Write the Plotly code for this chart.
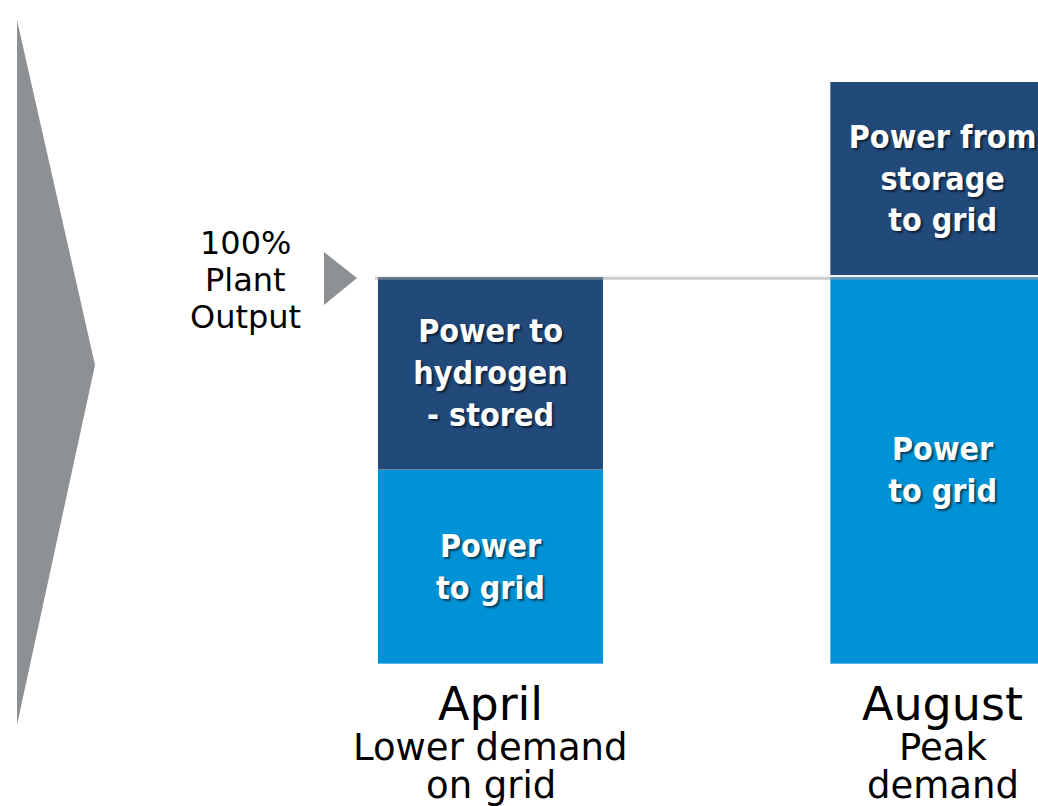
import plotly.graph_objects as go

# months / categories
months = ["April", "August"]
month_notes = [["Lower demand", "on grid"], ["Peak", "demand"]]

# share of plant output (%)
grid_share = [50, 100]
stored_share = [50, 0]
from_storage_share = [0, 50]

grid_labels = ["Power<br>to grid", "Power<br>to grid"]
stored_labels = ["Power to<br>hydrogen<br>- stored", ""]
from_storage_labels = ["", "Power from<br>storage<br>to grid"]

output_label = ["100%", "Plant", "Output"]

W, H = 1038, 806
NAVY = "#21497a"
BLUE = "#0092d6"
GRAY = "#8e9194"

label_font = dict(
    family="DejaVu Sans Condensed, DejaVu Sans",
    size=32,
    color="white",
    weight="bold",
    shadow="2px 2px 2px rgba(0,0,0,0.55)",
)

xpos = [0, 1]

fig = go.Figure()

fig.add_trace(go.Bar(
    x=xpos, y=grid_share, width=0.498,
    marker=dict(color=BLUE, line=dict(width=1, color="rgba(255,255,255,0.35)")),
    text=grid_labels, textposition="inside", insidetextanchor="middle",
    textangle=0, textfont=label_font, constraintext="none",
))
fig.add_trace(go.Bar(
    x=xpos, y=stored_share, width=0.498,
    marker=dict(color=NAVY, line=dict(width=1, color="rgba(255,255,255,0.35)")),
    text=stored_labels, textposition="inside", insidetextanchor="middle",
    textangle=0, textfont=label_font, constraintext="none",
))
fig.add_trace(go.Bar(
    x=xpos, y=from_storage_share, width=0.498,
    marker=dict(color=NAVY, line=dict(width=1, color="rgba(255,255,255,0.35)")),
    text=from_storage_labels, textposition="inside", insidetextanchor="middle",
    textangle=0, textfont=label_font, constraintext="none",
))


def px(x):
    return x / W


def py(y):
    return 1 - y / H


shapes = [
    # big chevron on the left
    dict(type="path", xref="paper", yref="paper", layer="below",
         path=f"M {px(17)},{py(20)} L {px(95)},{py(365)} L {px(17)},{py(725)} Z",
         fillcolor=GRAY, line=dict(width=0)),
    # small pointer at 100 %
    dict(type="path", xref="paper", yref="paper",
         path=f"M {px(324)},{py(252)} L {px(357)},{py(278)} L {px(324)},{py(305)} Z",
         fillcolor=GRAY, line=dict(width=0)),
    # 100 % plant output line
    dict(type="line", xref="paper", yref="y", x0=px(375), x1=1, y0=99.4, y1=99.4,
         line=dict(color="rgba(160,160,160,0.55)", width=3)),
    dict(type="line", xref="paper", yref="y", x0=px(375), x1=1, y0=100, y1=100,
         line=dict(color="#f4f4f4", width=2)),
]

annotations = []
for k, t in enumerate(output_label):
    annotations.append(dict(x=px(245), y=py(243 + 37 * k), xref="paper", yref="paper",
                            xanchor="center", yanchor="middle",
                            text=t, showarrow=False,
                            font=dict(family="DejaVu Sans", size=32, color="black")))
for i, m in enumerate(months):
    annotations.append(dict(x=xpos[i], y=0, text=m, showarrow=False,
                            xanchor="center", yanchor="middle", yshift=-40,
                            font=dict(family="DejaVu Sans", size=46, color="black")))
    for j, note in enumerate(month_notes[i]):
        annotations.append(dict(x=xpos[i], y=0, text=note, showarrow=False,
                                xanchor="center", yanchor="middle", yshift=-84 - 38 * j,
                                font=dict(family="DejaVu Sans", size=37, color="black")))

fig.update_layout(
    barmode="stack",
    width=W, height=H,
    margin=dict(l=0, r=0, t=0, b=0),
    paper_bgcolor="white", plot_bgcolor="white",
    showlegend=False,
    shapes=shapes,
    annotations=annotations,
    xaxis=dict(range=[-1.085, 1.211], visible=False),
    yaxis=dict(range=[-36.6, 171.1], visible=False),
)

fig.write_html(
    "out.html",
    config={"displayModeBar": False},
    post_script="document.body.style.margin='0';document.body.style.overflow='hidden';",
)
